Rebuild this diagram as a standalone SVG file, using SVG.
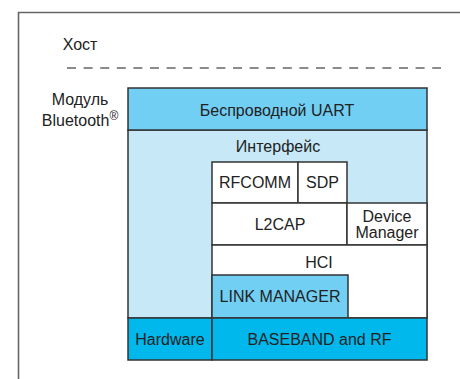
<svg xmlns="http://www.w3.org/2000/svg" width="460" height="379" viewBox="0 0 460 379">
<style>
text{font-family:"Liberation Sans",Arial,sans-serif;font-size:16px;fill:#222;text-anchor:middle}
.b{stroke:#333;stroke-width:1.5}
.mid{fill:#72cff4}
.light{fill:#c6e8f7}
.dark{fill:#00b8ec}
.w{fill:#fff}
</style>
<rect width="460" height="379" fill="#fff"/>
<g id="frame">
<path d="M18.5 379 V12.5 H460" fill="none" stroke="#666" stroke-width="1.6"/>
</g>
<g id="host">
<text x="80" y="50">Хост</text>
</g>
<g id="connectors">
<line x1="67" y1="68" x2="441" y2="68" stroke="#666" stroke-width="1.6" stroke-dasharray="9 7.6"/>
</g>
<g id="module-label">
<text x="80" y="105">Модуль</text>
<text x="80" y="126">Bluetooth<tspan font-size="12" dy="-6">®</tspan></text>
</g>
<g id="interface">
<rect class="b light" x="128" y="130" width="299" height="188"/>
<text x="278" y="152">Интерфейс</text>
</g>
<g id="uart">
<rect class="b mid" x="128" y="88" width="299" height="42"/>
<text x="277" y="116">Беспроводной UART</text>
</g>
<g id="rfcomm">
<rect class="b w" x="212" y="162" width="86" height="41"/>
<text x="255" y="188">RFCOMM</text>
</g>
<g id="sdp">
<rect class="b w" x="298" y="162" width="49" height="41"/>
<text x="322.5" y="188">SDP</text>
</g>
<g id="l2cap">
<rect class="b w" x="212" y="203" width="135" height="42"/>
<text x="280" y="230">L2CAP</text>
</g>
<g id="device-manager">
<rect class="b w" x="347" y="203" width="80" height="42"/>
<text x="387" y="222">Device</text>
<text x="387" y="238">Manager</text>
</g>
<g id="hci">
<rect class="b w" x="212" y="245" width="215" height="73"/>
<text x="319" y="268">HCI</text>
</g>
<g id="link-manager">
<rect class="b mid" x="212" y="275" width="136" height="43"/>
<text x="280" y="302">LINK MANAGER</text>
</g>
<g id="hardware">
<rect class="b dark" x="128" y="318" width="84" height="42"/>
<text x="170" y="345">Hardware</text>
</g>
<g id="baseband">
<rect class="b dark" x="212" y="318" width="215" height="42"/>
<text x="319.5" y="345">BASEBAND and RF</text>
</g>
</svg>
